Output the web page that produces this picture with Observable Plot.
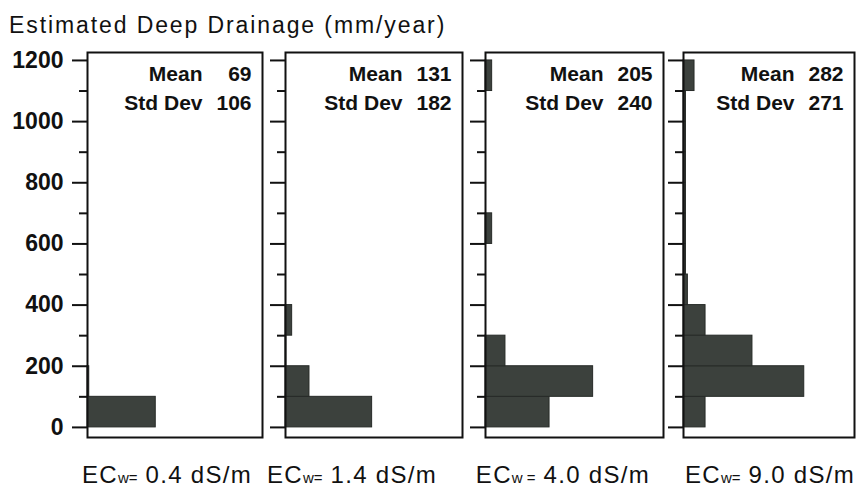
<!DOCTYPE html>
<html>
<head>
<meta charset="utf-8">
<script src="https://cdn.jsdelivr.net/npm/d3@7"></script>
<script src="https://cdn.jsdelivr.net/npm/@observablehq/plot@0.6"></script>
<style>
  html, body { margin: 0; padding: 0; background: #fff; }
  #root { position: relative; width: 858px; height: 492px; overflow: hidden; font-family: "Liberation Sans", Arial, Helvetica, sans-serif; color: #111; }
  .title { position: absolute; left: 9px; top: 12px; font-size: 23px; letter-spacing: 1.9px; white-space: nowrap; }
  .panel { position: absolute; top: 40px; }
  .panel svg { overflow: visible; }
  .cap { position: absolute; top: 461px; font-size: 24px; letter-spacing: 1.3px; white-space: nowrap; }
  .cap .sub { font-size: 15px; letter-spacing: 0; }
</style>
</head>
<body>
<div id="root"></div>
<script>
// ---- data ----
const titleText = "Estimated Deep Drainage (mm/year)";
const binStarts = [0, 100, 200, 300, 400, 500, 600, 700, 800, 900, 1000, 1100];
const binWidth = 100;
const majorTicks = [0, 200, 400, 600, 800, 1000, 1200];
const minorTicks = [100, 300, 500, 700, 900, 1100];
const ecValues = ["0.4", "1.4", "4.0", "9.0"];
const means = [69, 131, 205, 282];
const stdDevs = [106, 182, 240, 271];
// relative frequency per 100 mm/year bin
const counts1 = [39, 1, 0, 0, 0, 0, 0, 0, 0, 0, 0, 0];
const counts2 = [49.5, 13.7, 0.5, 3.8, 0, 0, 0, 0, 0, 0, 0, 0];
const counts3 = [36.6, 61.5, 11.4, 0, 0, 0, 3.8, 0, 0, 0, 0, 3.8];
const counts4 = [12.6, 69, 39.4, 12.6, 2.5, 1.4, 1.4, 1.4, 1.4, 1.4, 1.4, 6.3];
const allCounts = [counts1, counts2, counts3, counts4];

// ---- layout ----
const root = document.getElementById("root");
const title = document.createElement("div");
title.className = "title";
title.textContent = titleText;
root.appendChild(title);

const frames = [[87, 262], [285, 462], [485, 663], [683, 854]];
const pxPerUnit = 1.75;
const capRights = [252, 437, 650, 855];
const txt = {frameAnchor: "top-right", textAnchor: "end", lineAnchor: "middle", fontSize: 21, fontWeight: "bold", fill: "#111"};

allCounts.forEach((counts, i) => {
  const [fl, fr] = frames[i];
  const fw = fr - fl;
  const ml = i === 0 ? 87 : 20;
  const mr = 3;
  const data = binStarts.map((s, k) => ({lo: s, hi: s + binWidth, n: counts[k]})).filter(d => d.n > 0);
  const marks = [
    Plot.rect(data, {x1: 0, x2: "n", y1: "lo", y2: "hi", fill: "#3c413d", stroke: "#262a27", strokeWidth: 1}),
    Plot.frame({stroke: "#111", strokeWidth: 2}),
    Plot.axisY({ticks: minorTicks, tickSize: 8, strokeWidth: 2, stroke: "#111", tickFormat: () => "", label: null}),
    Plot.axisY({ticks: majorTicks, tickSize: 15, tickPadding: 9, strokeWidth: 2, stroke: "#111",
      tickFormat: i === 0 ? (d => String(d)) : (() => ""), label: null,
      fontSize: 23, fontWeight: "bold", fill: "#111"}),
    Plot.text(["Mean"], {...txt, text: d => d, dx: -60, dy: 22}),
    Plot.text(["Std Dev"], {...txt, text: d => d, dx: -60, dy: 51}),
    Plot.text([means[i]], {...txt, text: d => String(d), dx: -11, dy: 22}),
    Plot.text([stdDevs[i]], {...txt, text: d => String(d), dx: -11, dy: 51})
  ];
  const chart = Plot.plot({
    width: ml + fw + mr,
    height: 400,
    marginTop: 12,
    marginBottom: 3,
    marginLeft: ml,
    marginRight: mr,
    style: {fontFamily: '"Liberation Sans", Arial, Helvetica, sans-serif', background: "transparent", overflow: "visible"},
    x: {domain: [0, fw / pxPerUnit], axis: null},
    y: {domain: [-33, 1226], axis: null},
    marks
  });
  const holder = document.createElement("div");
  holder.className = "panel";
  holder.style.left = (fl - ml) + "px";
  holder.appendChild(chart);
  root.appendChild(holder);

  const cap = document.createElement("div");
  cap.className = "cap";
  cap.style.right = (858 - capRights[i]) + "px";
  cap.innerHTML = i === 2
    ? `EC<span class="sub">w =</span> ${ecValues[i]} dS/m`
    : `EC<span class="sub">w=</span> ${ecValues[i]} dS/m`;
  root.appendChild(cap);
});
</script>
</body>
</html>
